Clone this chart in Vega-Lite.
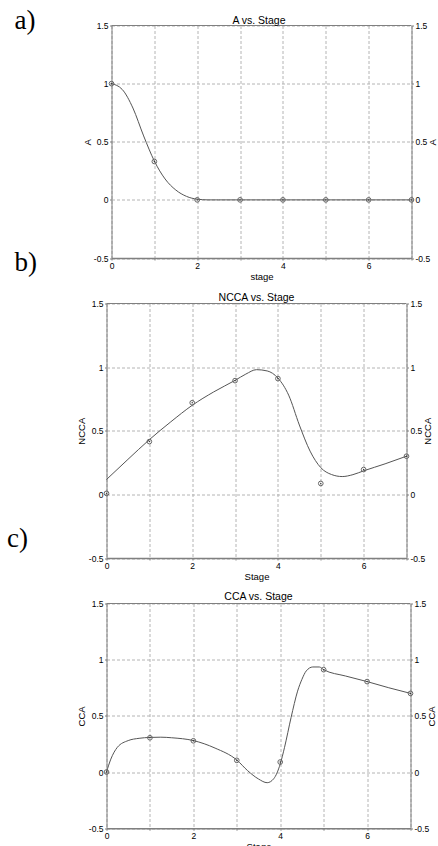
{
  "$schema": "https://vega.github.io/schema/vega-lite/v6.json",
  "padding": {"left": 6.5, "top": 6.5, "right": 5, "bottom": 5},
  "autosize": {"type": "pad"},
  "background": "white",
  "bounds": "flush",
  "spacing": 45,
  "datasets": {
    "pa": [
      {"stage": 0, "value": 1}, {"stage": 1, "value": 0.33}, {"stage": 2, "value": 0}, {"stage": 3, "value": 0},
      {"stage": 4, "value": 0}, {"stage": 5, "value": 0}, {"stage": 6, "value": 0}, {"stage": 7, "value": 0}
    ],
    "ca": [
      {"stage": 0, "value": 1}, {"stage": 0.25, "value": 0.95}, {"stage": 0.5, "value": 0.79}, {"stage": 0.75, "value": 0.55},
      {"stage": 1, "value": 0.334}, {"stage": 1.25, "value": 0.18}, {"stage": 1.5, "value": 0.085}, {"stage": 1.75, "value": 0.03},
      {"stage": 2, "value": 0.006}, {"stage": 2.25, "value": 0}, {"stage": 2.5, "value": 0}, {"stage": 7, "value": 0}
    ],
    "pb": [
      {"stage": 0, "value": 0.008}, {"stage": 1, "value": 0.415}, {"stage": 2, "value": 0.72}, {"stage": 3, "value": 0.894},
      {"stage": 4, "value": 0.91}, {"stage": 5, "value": 0.086}, {"stage": 6, "value": 0.195}, {"stage": 7, "value": 0.3}
    ],
    "cb": [
      {"stage": 0, "value": 0.117}, {"stage": 0.5, "value": 0.275}, {"stage": 1, "value": 0.43}, {"stage": 1.5, "value": 0.57},
      {"stage": 2, "value": 0.7}, {"stage": 2.5, "value": 0.805}, {"stage": 3, "value": 0.896}, {"stage": 3.25, "value": 0.945},
      {"stage": 3.5, "value": 0.98}, {"stage": 3.75, "value": 0.97}, {"stage": 4, "value": 0.914}, {"stage": 4.25, "value": 0.78},
      {"stage": 4.5, "value": 0.545}, {"stage": 4.75, "value": 0.34}, {"stage": 5, "value": 0.21}, {"stage": 5.25, "value": 0.156},
      {"stage": 5.5, "value": 0.14}, {"stage": 5.75, "value": 0.155}, {"stage": 6, "value": 0.185}, {"stage": 6.5, "value": 0.24},
      {"stage": 7, "value": 0.3}
    ],
    "pc": [
      {"stage": 0, "value": 0}, {"stage": 1, "value": 0.305}, {"stage": 2, "value": 0.278}, {"stage": 3, "value": 0.104},
      {"stage": 4, "value": 0.089}, {"stage": 5, "value": 0.911}, {"stage": 6, "value": 0.805}, {"stage": 7, "value": 0.7}
    ],
    "cc": [
      {"stage": 0, "value": 0}, {"stage": 0.1, "value": 0.115}, {"stage": 0.25, "value": 0.22}, {"stage": 0.5, "value": 0.28},
      {"stage": 0.75, "value": 0.3}, {"stage": 1, "value": 0.308}, {"stage": 1.25, "value": 0.31}, {"stage": 1.5, "value": 0.305},
      {"stage": 2, "value": 0.28}, {"stage": 2.5, "value": 0.213}, {"stage": 3, "value": 0.107}, {"stage": 3.25, "value": 0.012},
      {"stage": 3.5, "value": -0.062}, {"stage": 3.7, "value": -0.095}, {"stage": 3.85, "value": -0.06}, {"stage": 4, "value": 0.071},
      {"stage": 4.1, "value": 0.22}, {"stage": 4.25, "value": 0.485}, {"stage": 4.4, "value": 0.72}, {"stage": 4.5, "value": 0.825},
      {"stage": 4.6, "value": 0.9}, {"stage": 4.75, "value": 0.935}, {"stage": 4.9, "value": 0.935}, {"stage": 5, "value": 0.911},
      {"stage": 5.5, "value": 0.855}, {"stage": 6, "value": 0.805}, {"stage": 6.5, "value": 0.75}, {"stage": 7, "value": 0.7}
    ]
  },
  "vconcat": [
    {
      "width": 305,
      "height": 232.5,
      "title": {"text": "A vs. Stage", "offset": 0, "dy": 19.5},
      "layer": [
        {
          "layer": [
            {"data": {"name": "ca"}, "mark": {"type": "line", "interpolate": "monotone", "color": "#555555", "strokeWidth": 1},
              "encoding": {
                "x": {"field": "stage", "type": "quantitative",
                  "scale": {"domain": [0, 7], "range": [5, 305], "nice": false, "zero": false},
                  "axis": {"orient": "bottom", "title": "stage", "values": [0, 1, 2, 3, 4, 5, 6, 7], "labelExpr": "datum.value % 2 == 0 ? datum.value + '' : ''", "grid": true, "domainWidth": 1.5}},
                "y": {"field": "value", "type": "quantitative",
                  "scale": {"domain": [-0.5, 1.5], "nice": false, "zero": false},
                  "axis": {"orient": "left", "offset": -5, "title": "A", "titlePadding": 0.5, "values": [-0.5, 0, 0.5, 1, 1.5], "labelExpr": "datum.value + ''", "grid": true}}
              }},
            {"data": {"name": "pa"}, "mark": {"type": "point", "shape": "circle", "size": 22, "filled": false, "color": "#666666", "strokeWidth": 1, "opacity": 1},
              "encoding": {
                "x": {"field": "stage", "type": "quantitative"},
                "y": {"field": "value", "type": "quantitative"}
              }},
            {"data": {"values": [{}]}, "mark": {"type": "rule", "color": "#808080", "strokeWidth": 1},
              "encoding": {"x": {"datum": 0}, "x2": {"datum": 7}, "y": {"datum": 1.5}}},
            {"data": {"values": [{"label": "a)"}]}, "mark": {"type": "text", "font": "Liberation Serif", "fontSize": 27, "align": "left", "baseline": "alphabetic", "color": "#000000"},
              "encoding": {"x": {"datum": -2.263}, "y": {"datum": 1.472}, "text": {"field": "label"}}},
            {"data": {"values": [{"label": "b)"}]}, "mark": {"type": "text", "font": "Liberation Serif", "fontSize": 27, "align": "left", "baseline": "alphabetic", "color": "#000000"},
              "encoding": {"x": {"datum": -2.263}, "y": {"datum": -0.611}, "text": {"field": "label"}}}
          ]
        },
        {
          "data": {"name": "pa"},
          "mark": {"type": "point", "shape": "circle", "size": 2, "filled": true, "color": "#333333", "opacity": 1},
          "encoding": {
            "x": {"field": "stage", "type": "quantitative"},
            "y": {"field": "value", "type": "quantitative",
              "scale": {"domain": [-0.5, 1.5], "nice": false, "zero": false},
              "axis": {"orient": "right", "title": "A", "titleAngle": 270, "titleBaseline": "top", "values": [-0.5, 0, 0.5, 1, 1.5], "labelExpr": "datum.value + ''", "grid": false}}
          }
        }
      ],
      "resolve": {"scale": {"y": "independent"}}
    },
    {
      "width": 300,
      "height": 254.5,
      "title": {"text": "NCCA vs. Stage", "offset": 0, "dy": 3.5},
      "layer": [
        {
          "layer": [
            {"data": {"name": "cb"}, "mark": {"type": "line", "interpolate": "monotone", "color": "#555555", "strokeWidth": 1},
              "encoding": {
                "x": {"field": "stage", "type": "quantitative",
                  "scale": {"domain": [0, 7], "nice": false, "zero": false},
                  "axis": {"orient": "bottom", "title": "Stage", "values": [0, 1, 2, 3, 4, 5, 6, 7], "labelExpr": "datum.value % 2 == 0 ? datum.value + '' : ''", "grid": true, "domainWidth": 1.5}},
                "y": {"field": "value", "type": "quantitative",
                  "scale": {"domain": [-0.5, 1.5], "nice": false, "zero": false},
                  "axis": {"orient": "left", "title": "NCCA", "values": [-0.5, 0, 0.5, 1, 1.5], "labelExpr": "datum.value + ''", "grid": true}}
              }},
            {"data": {"name": "pb"}, "mark": {"type": "point", "shape": "circle", "size": 22, "filled": false, "color": "#666666", "strokeWidth": 1, "opacity": 1},
              "encoding": {
                "x": {"field": "stage", "type": "quantitative"},
                "y": {"field": "value", "type": "quantitative"}
              }},
            {"data": {"values": [{}]}, "mark": {"type": "rule", "color": "#808080", "strokeWidth": 1},
              "encoding": {"x": {"datum": 0}, "x2": {"datum": 7}, "y": {"datum": 1.5}}},
            {"data": {"values": [{"label": "c)"}]}, "mark": {"type": "text", "font": "Liberation Serif", "fontSize": 27, "align": "left", "baseline": "alphabetic", "color": "#000000"},
              "encoding": {"x": {"datum": -2.322}, "y": {"datum": -0.417}, "text": {"field": "label"}}}
          ]
        },
        {
          "data": {"name": "pb"},
          "mark": {"type": "point", "shape": "circle", "size": 2, "filled": true, "color": "#333333", "opacity": 1},
          "encoding": {
            "x": {"field": "stage", "type": "quantitative"},
            "y": {"field": "value", "type": "quantitative",
              "scale": {"domain": [-0.5, 1.5], "nice": false, "zero": false},
              "axis": {"orient": "right", "title": "NCCA", "titleAngle": 270, "titleBaseline": "top", "values": [-0.5, 0, 0.5, 1, 1.5], "labelExpr": "datum.value + ''", "grid": false}}
          }
        }
      ],
      "resolve": {"scale": {"y": "independent"}}
    },
    {
      "width": 304,
      "height": 224.7,
      "title": {"text": "CCA vs. Stage", "offset": 0, "dy": 3},
      "layer": [
        {
          "layer": [
            {"data": {"name": "cc"}, "mark": {"type": "line", "interpolate": "monotone", "color": "#555555", "strokeWidth": 1},
              "encoding": {
                "x": {"field": "stage", "type": "quantitative",
                  "scale": {"domain": [0, 7], "nice": false, "zero": false},
                  "axis": {"orient": "bottom", "title": "Stage", "values": [0, 1, 2, 3, 4, 5, 6, 7], "labelExpr": "datum.value % 2 == 0 ? datum.value + '' : ''", "grid": true, "domainWidth": 1.5}},
                "y": {"field": "value", "type": "quantitative",
                  "scale": {"domain": [-0.5, 1.5], "nice": false, "zero": false},
                  "axis": {"orient": "left", "title": "CCA", "values": [-0.5, 0, 0.5, 1, 1.5], "labelExpr": "datum.value + ''", "grid": true}}
              }},
            {"data": {"name": "pc"}, "mark": {"type": "point", "shape": "circle", "size": 22, "filled": false, "color": "#666666", "strokeWidth": 1, "opacity": 1},
              "encoding": {
                "x": {"field": "stage", "type": "quantitative"},
                "y": {"field": "value", "type": "quantitative"}
              }},
            {"data": {"values": [{}]}, "mark": {"type": "rule", "color": "#808080", "strokeWidth": 1},
              "encoding": {"x": {"datum": 0}, "x2": {"datum": 7}, "y": {"datum": 1.5}}}
          ]
        },
        {
          "data": {"name": "pc"},
          "mark": {"type": "point", "shape": "circle", "size": 2, "filled": true, "color": "#333333", "opacity": 1},
          "encoding": {
            "x": {"field": "stage", "type": "quantitative"},
            "y": {"field": "value", "type": "quantitative",
              "scale": {"domain": [-0.5, 1.5], "nice": false, "zero": false},
              "axis": {"orient": "right", "title": "CCA", "titleAngle": 270, "titleBaseline": "top", "values": [-0.5, 0, 0.5, 1, 1.5], "labelExpr": "datum.value + ''", "grid": false}}
          }
        }
      ],
      "resolve": {"scale": {"y": "independent"}}
    }
  ],
  "config": {
    "font": "Liberation Sans",
    "view": {"stroke": null},
    "axis": {
      "labelFontSize": 8.5, "labelColor": "#000000", "labelFlush": false, "labelOverlap": false, "labelPadding": 1.5,
      "titleFontSize": 9.5, "titleFontWeight": "normal", "titleColor": "#000000",
      "domainColor": "#808080", "domainWidth": 1, "tickColor": "#808080", "tickSize": 2, "tickWidth": 1,
      "gridColor": "#b4b4b4", "gridDash": [3, 2], "gridWidth": 1
    },
    "axisBottom": {"titlePadding": 1},
    "axisLeft": {"titlePadding": 2},
    "axisRight": {"titlePadding": -2},
    "title": {"fontSize": 10.5, "fontWeight": "normal", "color": "#000000", "frame": "group", "baseline": "alphabetic", "anchor": "middle"}
  }
}
